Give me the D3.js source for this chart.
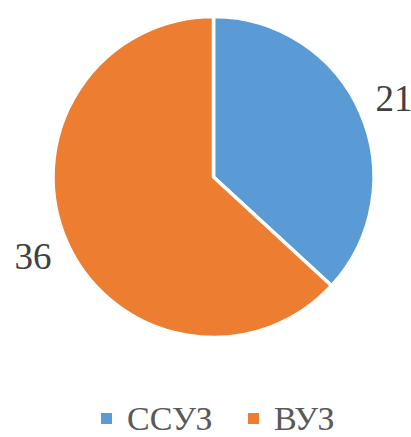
<!DOCTYPE html>
<html>
<head>
<meta charset="utf-8">
<script src="https://cdn.jsdelivr.net/npm/d3@7"></script>
<style>
  body { margin: 0; background: #fff; }
</style>
</head>
<body>
<div id="chart"></div>
<script>
const categories = ["ССУЗ", "ВУЗ"];
const values = [21, 36];
const colors = ["#5B9BD5", "#ED7D31"];

const width = 411, height = 437;
const cx = 213.5, cy = 177, radius = 160.5;
const serif = '"Liberation Serif", "Times New Roman", serif';

const svg = d3.select("#chart")
  .append("svg")
  .attr("width", width)
  .attr("height", height);

const pie = d3.pie().sort(null).value(d => d.value);
const arcs = pie(categories.map((c, i) => ({ name: c, value: values[i] })));

const arc = d3.arc().innerRadius(0).outerRadius(radius);
const labelArc = d3.arc().innerRadius(197).outerRadius(197);

const g = svg.append("g").attr("transform", `translate(${cx},${cy})`);

//slices
g.selectAll("path")
  .data(arcs)
  .join("path")
  .attr("d", arc)
  .attr("fill", (d, i) => colors[i])
  .attr("stroke", "#fff")
  .attr("stroke-width", 3.5)
  .attr("stroke-linejoin", "round");

//data labels
g.selectAll(".lbl")
  .data(arcs)
  .join("text")
  .attr("class", "lbl")
  .attr("transform", d => `translate(${labelArc.centroid(d)})`)
  .attr("text-anchor", "middle")
  .attr("dy", "0.35em")
  .style("font-family", serif)
  .style("font-size", "37px")
  .attr("fill", "#404040")
  .text(d => d.data.value);

//legend (nudged up a little so the text box stays inside the picture)
const legendX = [101, 248];
const legend = svg.append("g").attr("transform", "translate(0, 413)");
const items = legend.selectAll("g")
  .data(categories)
  .join("g")
  .attr("transform", (d, i) => `translate(${legendX[i]},0)`);

items.append("rect")
  .attr("width", 11)
  .attr("height", 11)
  .attr("fill", (d, i) => colors[i]);

items.append("text")
  .attr("x", 26)
  .attr("y", 17)
  .style("font-family", serif)
  .style("font-size", "34px")
  .attr("fill", "#595959")
  .text(d => d);
</script>
</body>
</html>
